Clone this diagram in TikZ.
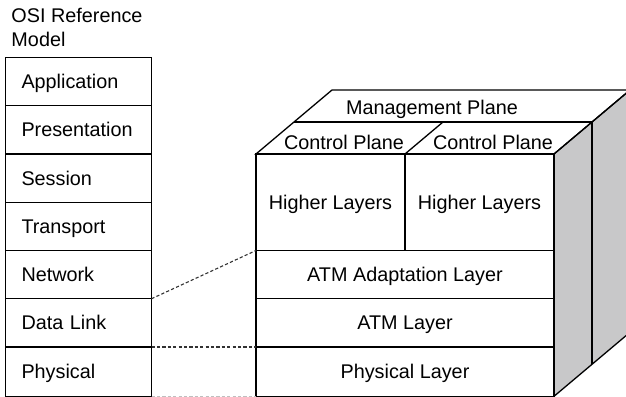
\documentclass[tikz,border=0pt]{standalone}
\usepackage{fontspec}
\setmainfont{Liberation Sans}
\definecolor{sidegray}{RGB}{200,200,201}
\definecolor{linkgray}{RGB}{50,50,50}
\begin{document}
\begin{tikzpicture}[x=1pt,y=-1pt,
  every node/.style={font=\fontsize{19.8}{24}\selectfont, inner sep=0pt, outer sep=0pt},
  box/.style={draw=black, line width=1.3pt, text height=14.2pt, text depth=0pt},
  osirow/.style={box, minimum width=146pt, minimum height=48.25pt, text width=114pt, inner xsep=16pt, align=left},
  cuberow/.style={box, minimum width=298pt, minimum height=48.25pt, align=center},
  halfcol/.style={box, minimum width=149pt, minimum height=96.5pt, align=center},
  edge/.style={draw=black, line width=1.3pt, line join=miter},
  link/.style={draw=linkgray, line width=1.1pt, dash pattern=on 3.2pt off 2.2pt},
  plane/.style={text height=14.2pt, text depth=0pt}
]
\useasboundingbox (0,0) rectangle (626,396);

% title
\node[anchor=north west, align=left] (title) at (11.5,8.5) {OSI Reference\\Model};

% OSI stack
\node[osirow] (app)  at (78.5,81.625)  {Application};
\node[osirow] (pres) at (78.5,129.875) {Presentation};
\node[osirow] (sess) at (78.5,178.125) {Session};
\node[osirow] (trans) at (78.5,226.375) {Transport};
\node[osirow] (net)  at (78.5,274.625) {Network};
\node[osirow] (dl)   at (78.5,322.875) {Data Link};
\node[osirow, minimum height=49.3pt] (phys) at (78.5,371.65) {Physical};

% cube: right face
\coordinate (ftr) at (554,154);
\coordinate (fbr) at (554,396.3);
\coordinate (btr) at (630,90);
\coordinate (bbr) at (630,332.3);
\coordinate (mtr) at (592,122);
\coordinate (mbr) at (592,364.3);
\fill[sidegray] (ftr) -- (btr) -- (bbr) -- (fbr) -- cycle;
\draw[edge] (ftr) -- (btr) -- (bbr) -- (fbr);
\draw[edge] (mtr) -- (mbr);

% cube: top face
\coordinate (ftl) at (256,154);
\coordinate (btl) at (332,90);
\coordinate (mtl) at (294,122);
\coordinate (fdv) at (405,154);
\coordinate (mdv) at (443,122);
\draw[edge] (ftl) -- (ftr) -- (btr) -- (btl) -- cycle;
\draw[edge] (mtl) -- (mtr);
\draw[edge] (fdv) -- (mdv);
\node[plane] (mgmt) at (432,107.4) {Management Plane};
\node[plane] (ctl1) at (344,141.9) {Control Plane};
\node[plane] (ctl2) at (493,141.9) {Control Plane};

% cube: front face
\node[halfcol] (hl1) at (330.5,202.25) {Higher Layers};
\node[halfcol] (hl2) at (479.5,202.25) {Higher Layers};
\node[cuberow] (aal) at (405,274.625) {ATM Adaptation Layer};
\node[cuberow] (atm) at (405,322.875) {ATM Layer};
\node[cuberow, minimum height=49.3pt] (phyl) at (405,371.65) {Physical Layer};

% correspondence links
\draw[link] (net.south east) -- (aal.north west);
\draw[link] (dl.south east) -- (atm.south west);
\draw[link, draw=black!25] (phys.south east) -- (phyl.south west);
\end{tikzpicture}
\end{document}
